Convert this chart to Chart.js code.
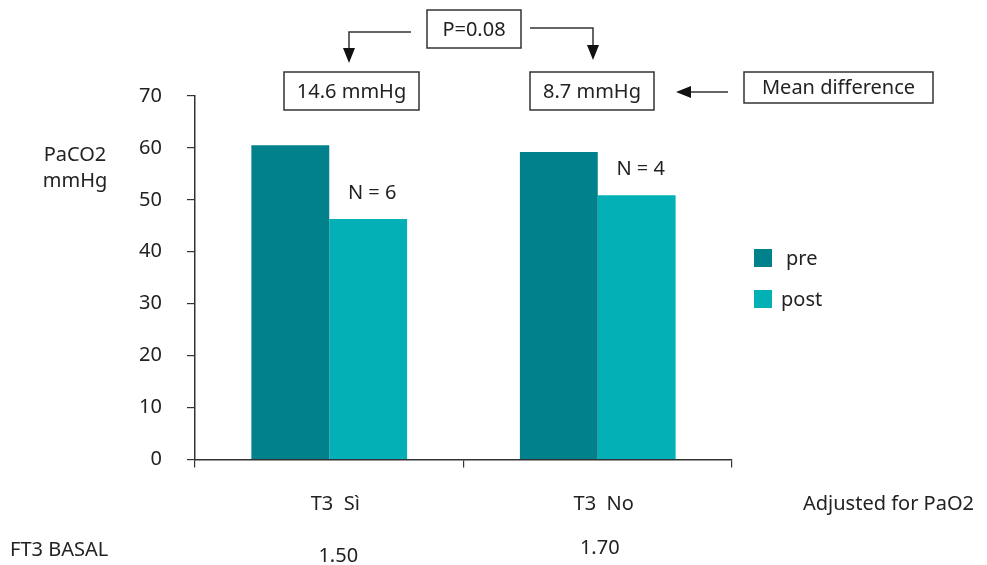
<!DOCTYPE html>
<html>
<head>
<meta charset="utf-8">
<script src="https://cdn.jsdelivr.net/npm/chart.js@4"></script>
<style>
  html, body { margin: 0; padding: 0; background: #fff; }
  #wrap { width: 987px; height: 565px; position: relative; }
</style>
</head>
<body>
<div id="wrap"><canvas id="myChart" width="987" height="565"></canvas></div>
<script>
var categories = ['T3  Sì', 'T3  No'];
var preValues = [60.5, 59.2];
var postValues = [46.3, 50.9];
var yTicks = [0, 10, 20, 30, 40, 50, 60, 70];
var nLabels = ['N = 6', 'N = 4'];
var meanDiffs = ['14.6 mmHg', '8.7 mmHg'];
var ft3Basal = ['1.50', '1.70'];
var pValue = 'P=0.08';

var FONT = '"Noto Sans", Lato, sans-serif';
var TXT = '#222';

function box(ctx, x1, y1, x2, y2, text) {
    ctx.strokeRect(x1, y1, x2 - x1, y2 - y1);
    ctx.textAlign = 'center';
    ctx.textBaseline = 'middle';
    ctx.fillText(text, (x1 + x2) / 2, (y1 + y2) / 2 + 1);
}

function arrowHead(ctx, x, y, dir) {
    // dir: 'down' or 'left'
    ctx.beginPath();
    if (dir == 'down') {
        ctx.moveTo(x, y);
        ctx.lineTo(x - 6, y - 15);
        ctx.lineTo(x + 6, y - 15);
    } else {
        ctx.moveTo(x, y);
        ctx.lineTo(x + 15, y - 6);
        ctx.lineTo(x + 15, y + 6);
    }
    ctx.closePath();
    ctx.fill();
}

var notes = {
    id: 'notes',
    afterDraw: function(chart) {
        var ctx = chart.ctx;
        ctx.save();
        ctx.font = '20px ' + FONT;
        ctx.fillStyle = TXT;
        ctx.strokeStyle = '#333';
        ctx.lineWidth = 1.5;

        // boxes
        box(ctx, 427, 10, 521, 48, pValue);
        box(ctx, 284, 72, 419, 110, meanDiffs[0]);
        box(ctx, 530, 72, 654, 110, meanDiffs[1]);
        box(ctx, 744, 72, 933, 103, 'Mean difference');

        // connectors
        ctx.beginPath();
        ctx.moveTo(411, 32); ctx.lineTo(349, 32); ctx.lineTo(349, 50);
        ctx.moveTo(530, 28); ctx.lineTo(593, 28); ctx.lineTo(593, 47);
        ctx.moveTo(728, 92); ctx.lineTo(688, 92);
        ctx.stroke();
        ctx.fillStyle = '#111';
        arrowHead(ctx, 349, 63, 'down');
        arrowHead(ctx, 593, 60, 'down');
        arrowHead(ctx, 676, 92, 'left');

        // N labels over post bars
        ctx.fillStyle = TXT;
        ctx.textAlign = 'center';
        ctx.textBaseline = 'middle';
        var postMeta = chart.getDatasetMeta(1);
        postMeta.data.forEach(function(bar, i) {
            ctx.fillText(nLabels[i], bar.x + 4, bar.y - 26);
        });

        // y title
        ctx.fillText('PaCO2', 75, 155);
        ctx.fillText('mmHg', 75, 181);

        // legend
        chart.data.datasets.forEach(function(ds, i) {
            var y = 249 + i * 41;
            ctx.fillStyle = ds.backgroundColor;
            ctx.fillRect(754, y, 18, 18);
            ctx.fillStyle = TXT;
            ctx.textAlign = 'left';
            ctx.fillText(ds.label, i == 0 ? 786 : 781, y + 10);
        });

        // bottom texts
        ctx.textAlign = 'left';
        ctx.fillText('Adjusted for PaO2', 803, 504);
        ctx.fillText('FT3 BASAL', 10, 550);
        ctx.textAlign = 'center';
        var xs = chart.scales.x;
        ctx.fillText(ft3Basal[0], xs.getPixelForValue(0) + 9, 556);
        ctx.fillText(ft3Basal[1], xs.getPixelForValue(1) + 2, 548);
        ctx.restore();
    }
};

var ctx = document.getElementById('myChart').getContext('2d');
var chart = new Chart(ctx, {
    type: 'bar',
    data: {
        labels: categories,
        datasets: [
            {
                label: 'pre',
                data: preValues,
                backgroundColor: '#01818C'
            },
            {
                label: 'post',
                data: postValues,
                backgroundColor: '#02B0B6'
            }
        ]
    },
    options: {
        responsive: false,
        animation: false,
        devicePixelRatio: 1,
        layout: {
            padding: { left: 0, right: 255, top: 96, bottom: 0 }
        },
        datasets: {
            bar: { categoryPercentage: 0.58, barPercentage: 1.0 }
        },
        plugins: {
            legend: { display: false },
            tooltip: { enabled: false }
        },
        scales: {
            x: {
                grid: {
                    drawOnChartArea: false,
                    drawTicks: true,
                    tickLength: 8,
                    color: '#333',
                    lineWidth: 1.2
                },
                border: { color: '#333', width: 1.5 },
                ticks: {
                    color: TXT,
                    font: { family: FONT, size: 20 },
                    padding: 25,
                    labelOffset: 6
                },
                afterFit: function(scale) { scale.height = 565 - 459.5; }
            },
            y: {
                min: 0,
                max: 70,
                afterBuildTicks: function(scale) {
                    scale.ticks = yTicks.map(function(v) { return { value: v }; });
                },
                grid: {
                    drawOnChartArea: false,
                    drawTicks: true,
                    tickLength: 8,
                    color: '#333',
                    lineWidth: 1.2
                },
                border: { color: '#333', width: 1.5 },
                ticks: {
                    color: TXT,
                    font: { family: FONT, size: 20 },
                    padding: 25
                },
                afterFit: function(scale) { scale.width = 195; }
            }
        }
    },
    plugins: [notes]
});
</script>
</body>
</html>
